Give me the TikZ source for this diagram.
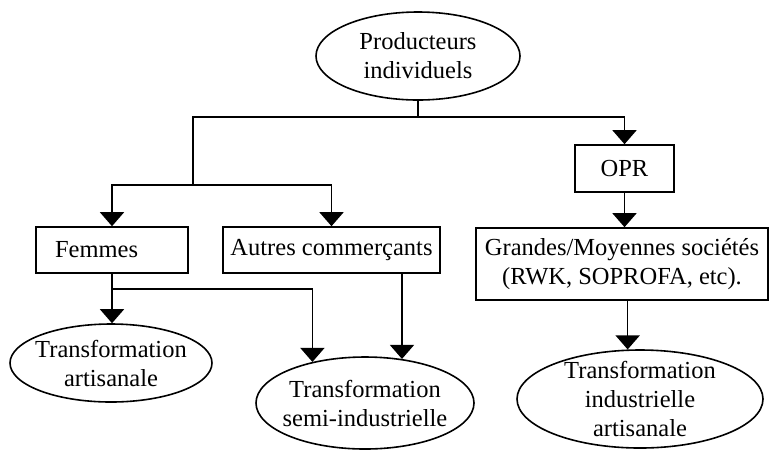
\documentclass[tikz,border=0pt]{standalone}
\usepackage{fontspec}
\setmainfont{Liberation Serif}
\usepackage{tikz}
\usetikzlibrary{shapes.geometric, arrows.meta, positioning, calc}

\tikzset{
  txt/.style={font=\fontsize{24.5}{29}\selectfont, align=center},
  oval/.style={ellipse, draw, line width=1.6pt, inner sep=0pt},
  boxnode/.style={rectangle, draw, line width=1.6pt, inner sep=0pt, txt},
  link/.style={line width=1.6pt},
  arr/.style={line width=1.6pt, -{Triangle[width=24pt,length=14pt]}}
}

\begin{document}
\begin{tikzpicture}[x=1pt, y=-1pt]
\useasboundingbox (0,0) rectangle (770,451);
% Top of the chain
\node[oval, minimum width=204, minimum height=88, label={[txt]center:Producteurs\\individuels}] (prod) at (418,56) {};
\node[boxnode, minimum width=99, minimum height=47] (opr) at (624.5,168.5) {OPR};
% Middle boxes
\node[boxnode, minimum height=46, inner xsep=19pt, text width=114pt, align=left] (femmes) at (112,250) {Femmes};
\node[boxnode, minimum width=217, minimum height=46] (autres) at (331.5,250) {Autres commerçants};
\node[boxnode, minimum width=292, minimum height=72] (grandes) at (622,264) {Grandes/Moyennes sociétés\\(RWK, SOPROFA, etc).};
% Processing
\node[oval, minimum width=202, minimum height=78, label={[txt]center:Transformation\\artisanale}] (artis) at (111,363) {};
\node[oval, minimum width=218, minimum height=92, label={[txt]center:Transformation\\semi-industrielle}] (semi) at (365,403) {};
\node[oval, minimum width=246, minimum height=98, label={[txt]center:Transformation\\industrielle\\artisanale}] (indus) at (640,399) {};

% Junctions
\coordinate (j1) at (prod.south |- 0,117);
\coordinate (j2) at (193,185);
\coordinate (j3) at (femmes.south |- 0,289);

\draw[link] (prod) -- (j1);
\draw[arr] (j1) -| (opr);
\draw[link] (j1) -| (j2);
\draw[arr] (j2) -| (femmes);
\draw[arr] (j2) -| (autres);
\draw[arr] (opr.south) -- (opr.south |- grandes.north);
\draw[link] (femmes) -- (j3);
\draw[arr] (j3) -- (j3 |- artis.north);
\draw[arr] (j3) -| (semi.142);
\draw[arr] (autres.south -| semi.50) -- (semi.50);
\draw[arr] (grandes.south -| indus.104) -- (indus.104);
\end{tikzpicture}
\end{document}
